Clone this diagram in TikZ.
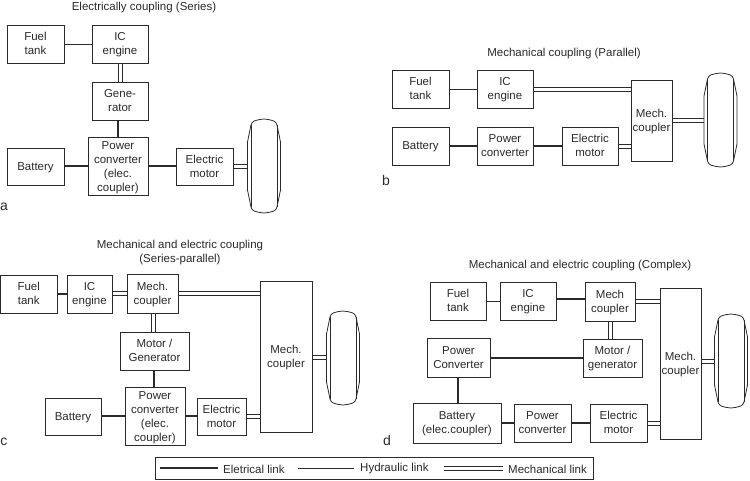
\documentclass[tikz,border=0pt]{standalone}
\usepackage{fontspec}
\setmainfont{Liberation Sans}
\definecolor{ink}{HTML}{2A2A2A}
\tikzset{
  boxnode/.style={draw=ink,line width=0.8pt,inner sep=0pt,align=center,text=ink,font=\fontsize{11.5}{14}\selectfont},
  txt/.style={inner sep=0pt,align=center,text=ink,font=\fontsize{11.5}{14}\selectfont},
  panel/.style={inner sep=0pt,text=ink,font=\fontsize{14}{14}\selectfont},
  elec/.style={draw=ink,line width=1.8pt},
  hyd/.style={draw=ink,line width=0.8pt},
  mech/.style={draw=ink,line width=0.7pt},
  wheel/.pic={
    \node[minimum width=33pt,minimum height=94pt,inner sep=0pt] (-body) at (0,0) {};
    \draw[draw=ink,line width=0.8pt]
      (-13,-41) .. controls (-12,-45) and (-9,-46) .. (0,-47)
      .. controls (9,-46) and (12,-45) .. (13,-41)
      -- (16.5,-24) -- (16.5,24) -- (13,41)
      .. controls (12,45) and (9,46) .. (0,47)
      .. controls (-9,46) and (-12,45) .. (-13,41)
      -- (-16.5,24) -- (-16.5,-24) -- cycle;
    \draw[draw=ink,line width=0.8pt] (-13,-41) -- (-13,41) (13,-41) -- (13,41);
  }
}
\newcommand{\bx}[6]{%
  \pgfmathsetmacro{\bxW}{#4-#2}\pgfmathsetmacro{\bxH}{#5-#3}%
  \pgfmathsetmacro{\bxX}{(#4+#2)/2}\pgfmathsetmacro{\bxY}{(#5+#3)/2}%
  \node[boxnode,minimum width=\bxW pt,minimum height=\bxH pt] (#1) at (\bxX,\bxY) {\rule{0pt}{\dimexpr\ht\strutbox+2pt\relax}#6\strut};%
}
\newcommand{\mechH}[2]{\draw[mech] ([yshift=2pt]#1) -- ([yshift=2pt]#2) ([yshift=-2pt]#1) -- ([yshift=-2pt]#2);}
\newcommand{\mechV}[2]{\draw[mech] ([xshift=2pt]#1) -- ([xshift=2pt]#2) ([xshift=-2pt]#1) -- ([xshift=-2pt]#2);}
\begin{document}
\begin{tikzpicture}[x=1pt,y=-1pt]
\useasboundingbox (0,0) rectangle (750,480);
% ---------- a
\node[txt] (ta) at (144,8) {Electrically coupling (Series)};
\node[panel] (la) at (4,207) {a};
\bx{aF}{7}{25}{64}{63}{Fuel\\tank}
\bx{aI}{92}{25}{148}{63}{IC\\engine}
\bx{aG}{92}{82}{148}{120}{Gene-\\rator}
\bx{aP}{88}{138}{148}{195}{Power\\converter\\(elec.\\coupler)}
\bx{aB}{7}{148}{64}{185}{Battery}
\bx{aM}{176}{148}{233}{185}{Electric\\motor}
\pic (aW) at (264,166) {wheel};
% ---------- b
\node[txt] (tb) at (564,54) {Mechanical coupling (Parallel)};
\node[panel] (lb) at (386,180) {b};
\bx{bF}{392}{70}{449}{108}{Fuel\\tank}
\bx{bI}{477}{70}{533}{108}{IC\\engine}
\bx{bC}{631}{80}{672}{161}{Mech.\\coupler}
\bx{bB}{392}{127}{449}{165}{Battery}
\bx{bP}{477}{127}{533}{165}{Power\\converter}
\bx{bM}{562}{127}{618}{165}{Electric\\motor}
\pic (bW) at (720.5,120) {wheel};
% ---------- c
\node[txt] (tc) at (180,252.5) {Mechanical and electric coupling\\(Series-parallel)};
\node[panel] (lc) at (4,442) {c};
\bx{cF}{0.5}{275}{57}{313}{Fuel\\tank}
\bx{cI}{67}{275}{112}{313}{IC\\engine}
\bx{cC}{127}{274}{178}{313}{Mech.\\coupler}
\bx{cD}{260}{281}{312}{432}{Mech.\\coupler}
\bx{cG}{120}{332}{189}{370}{Motor /\\Generator}
\bx{cP}{125}{388}{185}{445}{Power\\converter\\(elec.\\coupler)}
\bx{cB}{45}{398}{101}{435}{Battery}
\bx{cM}{197}{398}{246}{435}{Electric\\motor}
\pic (cW) at (343,358) {wheel};
% ---------- d
\node[txt] (td) at (580,266) {Mechanical and electric coupling (Complex)};
\node[panel] (ld) at (387,440) {d};
\bx{dF}{430}{282}{486}{320}{Fuel\\tank}
\bx{dI}{500}{282}{556}{320}{IC\\engine}
\bx{dC}{585}{282}{635}{321}{Mech\\coupler}
\bx{dD}{660}{288}{701}{439}{Mech.\\coupler}
\bx{dG}{583}{339}{642}{377}{Motor /\\generator}
\bx{dV}{427}{338}{490}{377}{Power\\Converter}
\bx{dB}{413}{403}{501}{443}{Battery\\(elec.coupler)}
\bx{dP}{514}{404}{571}{442}{Power\\converter}
\bx{dM}{590}{404}{647}{442}{Electric\\motor}
\pic (dW) at (731,361) {wheel};
% ---------- legend
\bx{leg}{155}{457.5}{593}{479}{}
\coordinate (e1) at (160,468); \coordinate (e2) at (218,468);
\node[txt,anchor=west] (et) at (223,469) {Eletrical link};
\coordinate (h1) at (298,468); \coordinate (h2) at (354,468);
\node[txt,anchor=west] (ht) at (360,469) {Hydraulic link};
\coordinate (m1) at (444,468); \coordinate (m2) at (503,468);
\node[txt,anchor=west] (mt) at (508,469) {Mechanical link};
% ---------- connectors
\draw[hyd] (aF.east |- 0,44) -- (aI.west |- 0,44);
\mechV{aI.south -| 120,0}{aG.north -| 120,0}
\draw[elec] (aG.south -| 118,0) -- (aP.north -| 118,0);
\draw[elec] (aB.east |- 0,166) -- (aP.west |- 0,166);
\draw[elec] (aP.east |- 0,166) -- (aM.west |- 0,166);
\mechH{aM.east |- 0,166.5}{aW-body.west |- 0,166.5}

\draw[hyd] (bF.east |- 0,89) -- (bI.west |- 0,89);
\mechH{bI.east |- 0,89.5}{bC.west |- 0,89.5}
\draw[elec] (bB.east |- 0,146) -- (bP.west |- 0,146);
\draw[elec] (bP.east |- 0,146) -- (bM.west |- 0,146);
\mechH{bM.east |- 0,146}{bC.west |- 0,146}
\mechH{bC.east |- 0,120}{bW-body.west |- 0,120}

\draw[hyd,line width=1.1pt] (cF.east |- 0,294) -- (cI.west |- 0,294);
\mechH{cI.east |- 0,293}{cC.west |- 0,293}
\mechH{cC.east |- 0,293}{cD.west |- 0,293}
\mechV{cC.south -| 153,0}{cG.north -| 153,0}
\draw[elec] (cG.south -| 154,0) -- (cP.north -| 154,0);
\draw[elec] (cB.east |- 0,416) -- (cP.west |- 0,416);
\draw[elec] (cP.east |- 0,416) -- (cM.west |- 0,416);
\mechH{cM.east |- 0,416}{cD.west |- 0,416}
\mechH{cD.east |- 0,357}{cW-body.west |- 0,357}

\draw[hyd] (dF.east |- 0,301) -- (dI.west |- 0,301);
\draw[elec] (dI.east |- 0,299) -- (dC.west |- 0,299);
\mechH{dC.east |- 0,301.5}{dD.west |- 0,301.5}
\mechV{dC.south -| 610,0}{dG.north -| 610,0}
\draw[elec] (dV.east |- 0,358) -- (dG.west |- 0,358);
\draw[elec] (dV.south -| 458,0) -- (dB.north -| 458,0);
\draw[elec] (dB.east |- 0,423) -- (dP.west |- 0,423);
\draw[elec] (dP.east |- 0,423) -- (dM.west |- 0,423);
\mechH{dM.east |- 0,423}{dD.west |- 0,423}
\mechH{dD.east |- 0,361}{dW-body.west |- 0,361}

\draw[elec] (e1) -- (e2);
\draw[hyd] (h1) -- (h2);
\mechH{m1}{m2}
\end{tikzpicture}
\end{document}
